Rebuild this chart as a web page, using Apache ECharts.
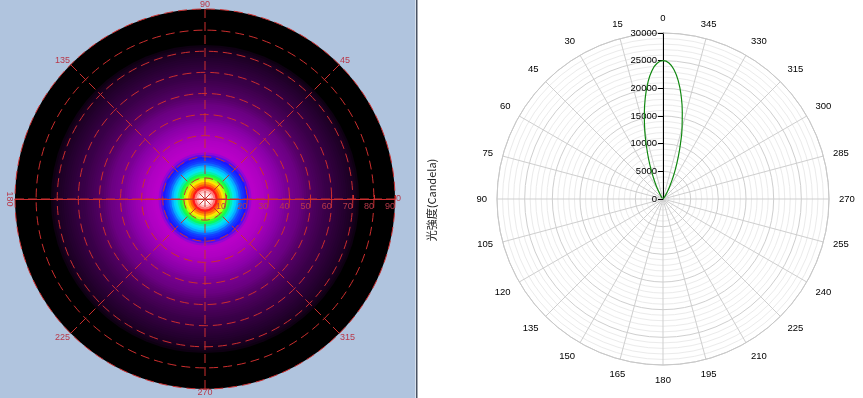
<!DOCTYPE html>
<html><head><meta charset="utf-8">
<script src="https://cdn.jsdelivr.net/npm/echarts@6/dist/echarts.min.js"></script>
<style>html,body{margin:0;padding:0;background:#fff}#c{width:863px;height:398px}</style>
</head><body><div id="c"></div>
<script>
// ---------- Left: isocandela false-colour map (relative level per 1° ring, 0°..89°) ----------
const mapRingStart = Array.from({length: 90}, (_, i) => i);
const mapLevels = [
  12, 12, 11.9, 11.7, 11.4, 11, 10.4, 9.8, 9.2, 8.7,
  8.2, 7.8, 7.4, 7.1, 6.9, 6.7, 6.4, 6.2, 6.1, 6.0,
  5.6, 5.2, 5.0, 5.0, 4.95, 4.9, 4.85, 4.8, 4.7, 4.6,
  4.5, 4.4, 4.3, 4.2, 4.1, 4.0, 3.9, 3.8, 3.7, 3.65,
  3.6, 3.55, 3.5, 3.45, 3.4, 3.3, 3.2, 3.1, 3.0, 2.9,
  2.8, 2.7, 2.6, 2.5, 2.4, 2.3, 2.2, 2.1, 2.05, 2.0,
  1.9, 1.8, 1.7, 1.6, 1.5, 1.4, 1.3, 1.2, 1.1, 1.0,
  0.9, 0.7, 0.5, 0, 0, 0, 0, 0, 0, 0,
  0, 0, 0, 0, 0, 0, 0, 0, 0, 0
];
const mapAngleTicks = [0, 45, 90, 135, 180, 225, 270, 315];
const mapRadiusTicks = [10, 20, 30, 40, 50, 60, 70, 80, 90];

// ---------- Right: luminous intensity polar curve ----------
const lobeAngles = [315, 317.5, 320, 322.5, 325, 327.5, 330, 332.5, 335, 337.5, 340, 342.5, 345, 347.5, 350, 352.5, 355, 357.5,
  0, 2.5, 5, 7.5, 10, 12.5, 15, 17.5, 20, 22.5, 25, 27.5, 30, 32.5, 35, 37.5, 40, 42.5, 45];
const lobeIntensity = [25, 80, 180, 350, 640, 1100, 1800, 2800, 4150, 5900, 8000, 10500, 13300, 16100, 18900, 21400, 23350, 24600,
  25000, 24550, 23200, 21100, 18500, 15600, 12700, 9900, 7500, 5400, 3750, 2500, 1550, 950, 530, 280, 140, 60, 20];
const intensityTicks = [0, 5000, 10000, 15000, 20000, 25000, 30000];
const yTitle = '光強度(Candela)';

// outermost ring first, so each inner disc is painted on top (no seams)
const heatData = mapRingStart.map((a, i) => [a + 1, a, mapLevels[i]]).reverse();
const lobeData = lobeAngles.map((a, i) => [lobeIntensity[i], a]);

const RED = '#cc2e2e';
const RED_TXT = '#b8394a';
const FONT = 'Liberation Sans';

const chart = echarts.init(document.getElementById('c'), null, {renderer: 'canvas'});
const option = {
  backgroundColor: '#ffffff',
  animation: false,
  graphic: [
    {id: 'bgL', type: 'rect', z: -10, silent: true, shape: {x: 0, y: 0, width: 415, height: 398}, style: {fill: '#b0c4de'}},
    {id: 'divA', type: 'rect', z: -10, silent: true, shape: {x: 415, y: 0, width: 1, height: 398}, style: {fill: '#d8e2ee'}},
    {id: 'divB', type: 'rect', z: -10, silent: true, shape: {x: 416, y: 0, width: 1.5, height: 398}, style: {fill: '#4a5262'}},
    {id: 'ytitle', type: 'text', rotation: Math.PI / 2, x: 432, y: 200,
      style: {text: yTitle, fill: '#222', font: '11px "Noto Sans CJK TC", sans-serif', align: 'center', verticalAlign: 'middle'}}
  ],
  visualMap: {
    show: false, type: 'continuous', min: 0, max: 12, dimension: 2, seriesIndex: 0,
    inRange: {color: ['#000000', '#1c0024', '#360044', '#560068', '#8a00a8', '#b800c8', '#1818ff', '#00e4ff', '#10ff30', '#ffff00', '#ff8a00', '#ff1818', '#ffffff']}
  },
  polar: [
    {center: [205, 199], radius: 190},
    {center: [205, 199], radius: 190},
    {center: [663, 199], radius: 166}
  ],
  angleAxis: [
    {
      polarIndex: 0, type: 'value', min: 0, max: 360, interval: 45, startAngle: 0, clockwise: false, z: 10,
      axisLine: {show: false}, axisTick: {show: false},
      axisLabel: {color: RED_TXT, fontSize: 9, fontFamily: FONT, margin: 1, lineHeight: 6,
        formatter: v => (v === 180 || v === 360) ? '' : String(v)},
      splitLine: {show: true, lineStyle: {color: RED, width: 1, type: [9, 4]}}
    },
    {
      polarIndex: 1, type: 'value', min: 0, max: 360, interval: 90, startAngle: 180, clockwise: false, show: true,
      axisLine: {show: false}, axisTick: {show: false}, axisLabel: {show: false},
      splitLine: {show: false}, splitArea: {show: false}
    },
    {
      polarIndex: 2, type: 'value', min: 0, max: 360, interval: 15, startAngle: 90, clockwise: false,
      axisLine: {show: true, lineStyle: {color: '#c8c8c8'}}, axisTick: {show: false},
      axisLabel: {color: '#000', fontSize: 9.5, fontFamily: FONT, margin: 10},
      splitLine: {show: true, lineStyle: {color: '#cfcfcf', width: 1}}
    }
  ],
  radiusAxis: [
    {
      polarIndex: 0, type: 'value', min: 0, max: 90, interval: 10, z: 10,
      axisLine: {show: true, lineStyle: {color: RED, width: 1}},
      axisTick: {show: true, inside: true, length: 4, lineStyle: {color: RED}},
      axisLabel: {color: RED_TXT, fontSize: 9, fontFamily: FONT, margin: -3, align: 'right', verticalAlign: 'top', showMinLabel: false},
      splitLine: {show: true, lineStyle: {color: RED, width: 1, type: [9, 5]}}
    },
    {
      polarIndex: 1, type: 'value', min: 0, max: 90, z: 10,
      axisLine: {show: true, lineStyle: {color: RED, width: 1}},
      axisTick: {show: false}, axisLabel: {show: false}, splitLine: {show: false}, splitArea: {show: false}
    },
    {
      polarIndex: 2, type: 'value', min: 0, max: 30000, interval: 5000,
      axisLine: {show: true, lineStyle: {color: '#000', width: 1}},
      axisTick: {show: true, length: 5, lineStyle: {color: '#000'}},
      axisLabel: {color: '#000', fontSize: 9.5, fontFamily: FONT, margin: 6, formatter: v => String(v)},
      splitLine: {show: true, lineStyle: {color: '#cfcfcf', width: 1}},
      minorTick: {show: false, splitNumber: 5},
      minorSplitLine: {show: true, lineStyle: {color: '#ebebeb', width: 1}}
    }
  ],
  series: [
    {
      type: 'custom', coordinateSystem: 'polar', polarIndex: 0, z: 1, silent: true,
      encode: {radius: 0, angle: 1},
      data: heatData,
      renderItem: function (params, api) {
        const c = api.coord([0, 0]);
        const p1 = api.coord([api.value(0), 0]);
        const r1 = Math.hypot(p1[0] - c[0], p1[1] - c[1]);
        return {
          type: 'circle',
          shape: {cx: c[0], cy: c[1], r: r1},
          style: {fill: api.visual('color')}
        };
      }
    },
    {
      type: 'line', coordinateSystem: 'polar', polarIndex: 2, data: lobeData,
      smooth: true, showSymbol: false, z: 5,
      lineStyle: {color: '#118811', width: 1.2}
    }
  ]
};
chart.setOption(option);

// rotated "180" label of the map, placed at the polar point of the 180° direction
let p180 = null;
try { p180 = chart.convertToPixel({polarIndex: 0}, [90, 180]); } catch (e) { p180 = null; }
if (!p180) p180 = [15, 199];
chart.setOption({
  graphic: [{
    id: 'lbl180', type: 'text', rotation: -Math.PI / 2, x: p180[0] - 6, y: p180[1],
    style: {text: String(mapAngleTicks[4]), fill: RED_TXT, font: '9px "Liberation Sans"', align: 'center', verticalAlign: 'middle'}
  }]
});
</script>
</body></html>
